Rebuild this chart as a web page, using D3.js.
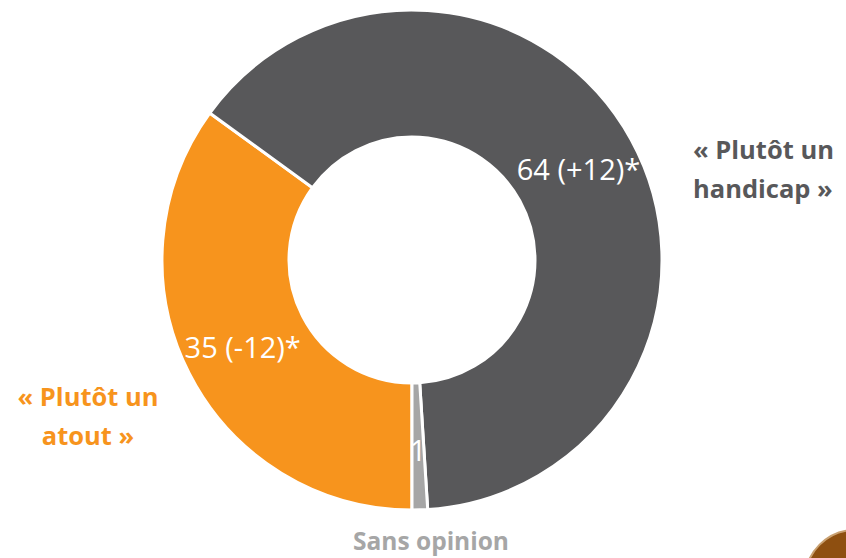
<!DOCTYPE html>
<html lang="fr">
<head>
<meta charset="utf-8">
<style>
  body { margin: 0; background: #fff; }
  .slice_label { font-family: "Open Sans", sans-serif; font-size: 29px; fill: #fff; }
  .cat_label { font-family: "Open Sans", sans-serif; font-weight: bold; font-size: 25.5px; }
</style>
</head>
<body>
<div id="chart"></div>
<script src="https://cdn.jsdelivr.net/npm/d3@7/dist/d3.min.js"></script>
<script>
var categories = ["« Plutôt un atout »", "« Plutôt un handicap »", "Sans opinion"];
var values = [35, 64, 1];
var sliceLabels = ["35 (-12)*", "64 (+12)*", "1"];
var colors = ["#F7941D", "#58585A", "#A6A6A6"];

var width = 846, height = 558;
var cx = 412, cy = 260, outerR = 250, innerR = 123;

var svg = d3.select("#chart").append("svg")
    .attr("width", width)
    .attr("height", height);

var g = svg.append("g").attr("transform", "translate(" + cx + "," + cy + ")");

var pie = d3.pie().sort(null).startAngle(Math.PI).endAngle(3 * Math.PI);
var arcs = pie(values);
var arc = d3.arc().innerRadius(innerR).outerRadius(outerR);
var labelArc = d3.arc().innerRadius(190).outerRadius(190);

g.selectAll("path.slice")
    .data(arcs)
    .enter()
    .append("path")
    .attr("class", "slice")
    .attr("d", arc)
    .attr("fill", function(d, i) { return colors[i]; })
    .attr("stroke", "#fff")
    .attr("stroke-width", 3);

// clip each label to its own slice (the "1" gets cut like the original)
var defs = svg.append("defs");
arcs.forEach(function(d, i) {
    defs.append("clipPath").attr("id", "clip" + i)
        .append("path").attr("d", arc(d));
});

g.selectAll("g.lab")
    .data(arcs)
    .enter()
    .append("g")
    .attr("class", "lab")
    .attr("clip-path", function(d, i) { return i == 2 ? "url(#clip2)" : null; })
    .append("text")
    .attr("class", "slice_label")
    .attr("transform", function(d) { return "translate(" + labelArc.centroid(d) + ")"; })
    .attr("text-anchor", "middle")
    .attr("dominant-baseline", "central")
    .text(function(d, i) { return sliceLabels[i]; });

// category labels
var atout = svg.append("text").attr("class", "cat_label")
    .attr("fill", colors[0]).attr("text-anchor", "middle");
atout.append("tspan").attr("x", 88).attr("y", 406).text("« Plutôt un");
atout.append("tspan").attr("x", 88).attr("y", 445).text("atout »");

var handicap = svg.append("text").attr("class", "cat_label")
    .attr("fill", colors[1]).attr("text-anchor", "start");
handicap.append("tspan").attr("x", 693).attr("y", 159).text("« Plutôt un");
handicap.append("tspan").attr("x", 693).attr("y", 198).text("handicap »");

svg.append("text").attr("class", "cat_label")
    .attr("fill", colors[2])
    .attr("text-anchor", "middle")
    .attr("x", 431).attr("y", 550)
    .style("font-size", "24.5px")
    .text(categories[2]);

// corner of a picture at the bottom right
svg.append("circle")
    .attr("cx", 855).attr("cy", 580).attr("r", 50)
    .attr("fill", "#8E4F10")
    .attr("stroke", "#C9A070")
    .attr("stroke-width", 2);
</script>
</body>
</html>
